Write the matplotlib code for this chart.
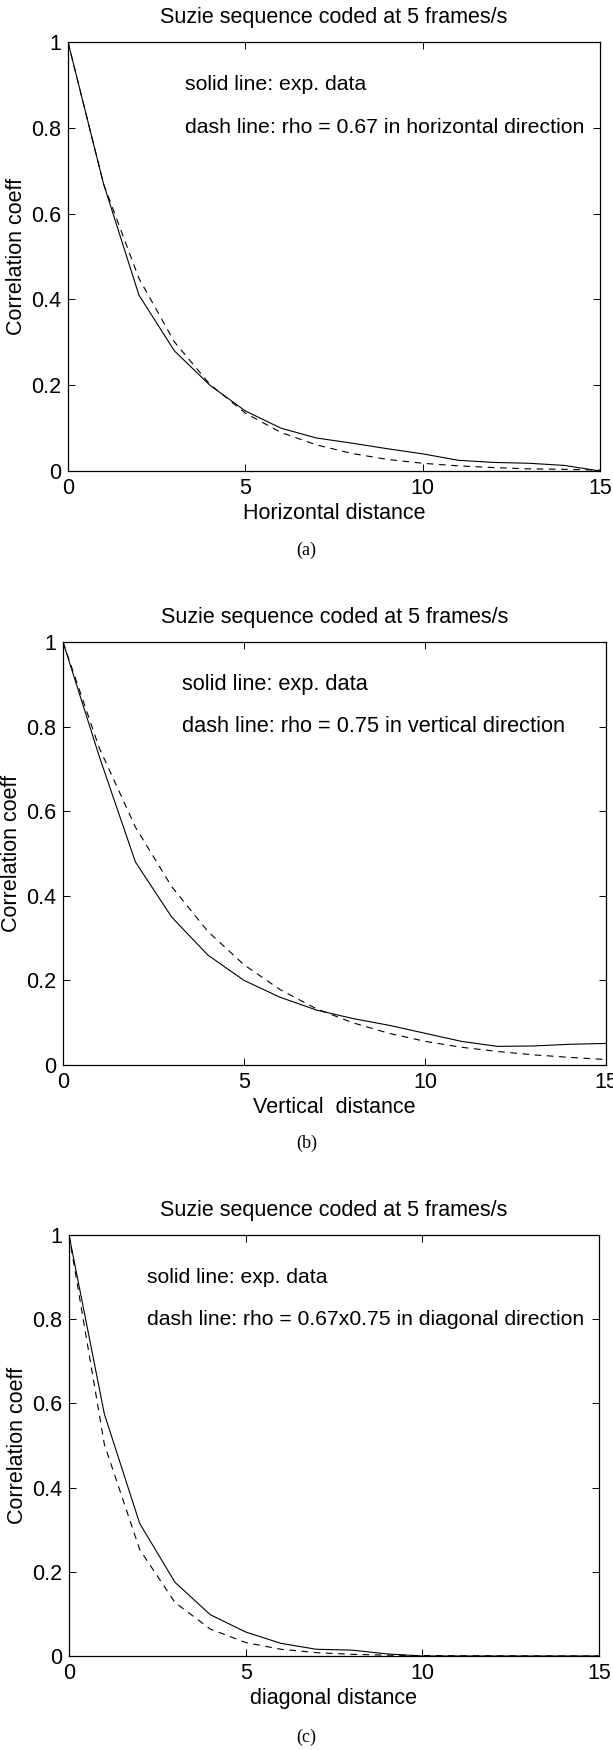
import matplotlib
matplotlib.use("Agg")
import matplotlib.pyplot as plt

plt.rcParams["font.family"] = ["Liberation Sans", "DejaVu Sans"]

# distance in pixels (0..15)
dist = list(range(16))

# (a) horizontal direction
horiz_exp = [1.0, 0.67, 0.41, 0.28, 0.20, 0.14, 0.10, 0.077, 0.065, 0.052,
             0.040, 0.025, 0.020, 0.018, 0.013, 0.0]
horiz_model = [1.0, 0.67, 0.449, 0.301, 0.202, 0.135, 0.090, 0.061, 0.041,
               0.027, 0.018, 0.012, 0.008, 0.005, 0.004, 0.002]

# (b) vertical direction
vert_exp = [1.0, 0.73, 0.48, 0.35, 0.26, 0.20, 0.16, 0.13, 0.11, 0.094,
            0.075, 0.056, 0.044, 0.045, 0.049, 0.051]
vert_model = [1.0, 0.75, 0.5625, 0.422, 0.316, 0.237, 0.178, 0.133, 0.100,
              0.075, 0.056, 0.042, 0.032, 0.024, 0.018, 0.013]

# (c) diagonal direction
diag_exp = [1.0, 0.575, 0.315, 0.175, 0.098, 0.057, 0.030, 0.016, 0.014,
            0.005, 0.0, 0.0, 0.0, 0.0, 0.0, 0.0]
diag_model = [1.0, 0.503, 0.253, 0.127, 0.064, 0.032, 0.016, 0.008, 0.004,
              0.002, 0.001, 0.0005, 0.0003, 0.0001, 0.0001, 0.0]

xticks = [0, 5, 10, 15]
yticks = [0, 0.2, 0.4, 0.6, 0.8, 1]
ytick_labels = ["0", "0.2", "0.4", "0.6", "0.8", "1"]

title = "Suzie sequence coded at 5 frames/s"
xlabels = ["Horizontal distance", "Vertical  distance", "diagonal distance"]
notes = ["dash line: rho = 0.67 in horizontal direction",
         "dash line: rho = 0.75 in vertical direction",
         "dash line: rho = 0.67x0.75 in diagonal direction"]
note_x = [3.3, 3.3, 2.2]
captions = ["(a)", "(b)", "(c)"]

W, H = 613, 1750
fig = plt.figure(figsize=(W / 100, H / 100), dpi=100)

# axes boxes in pixels: left, right, top, bottom (the scanned panels differ a bit)
boxes = [(68, 600, 42, 471), (63, 606, 642, 1065), (69, 599, 1235, 1656)]
caption_y = [550, 1143, 1737]
note_fs = [15.3, 15.7, 15.2]

panels = [(horiz_exp, horiz_model), (vert_exp, vert_model), (diag_exp, diag_model)]
fs = 15.5

for i, (exp_data, model) in enumerate(panels):
    l, r, t, b = boxes[i]
    ax = fig.add_axes([l / W, 1 - b / H, (r - l) / W, (b - t) / H])

    ax.plot(dist, exp_data, color="black", lw=0.8)
    ax.plot(dist, model, color="black", lw=0.8, dashes=(6, 5))

    ax.set_xlim(0, 15)
    ax.set_ylim(0, 1)
    ax.set_xticks(xticks)
    ax.set_yticks(yticks)
    ax.set_yticklabels(ytick_labels)
    ax.tick_params(direction="in", top=True, right=True, length=5,
                   width=0.7, labelsize=fs, pad=5)
    for s in ax.spines.values():
        s.set_linewidth(0.9)

    ax.set_title(title, fontsize=fs, pad=14)
    ax.set_xlabel(xlabels[i], fontsize=fs, labelpad=3)
    ax.set_ylabel("Correlation coeff", fontsize=fs, labelpad=3)

    ax.text(note_x[i], 0.9, "solid line: exp. data", fontsize=note_fs[i], va="center")
    ax.text(note_x[i], 0.8, notes[i], fontsize=note_fs[i], va="center")

    fig.text(0.5, 1 - caption_y[i] / H, captions[i], ha="center", va="center",
             fontsize=13, family="Liberation Serif")

fig.savefig("out.png", dpi=100)
